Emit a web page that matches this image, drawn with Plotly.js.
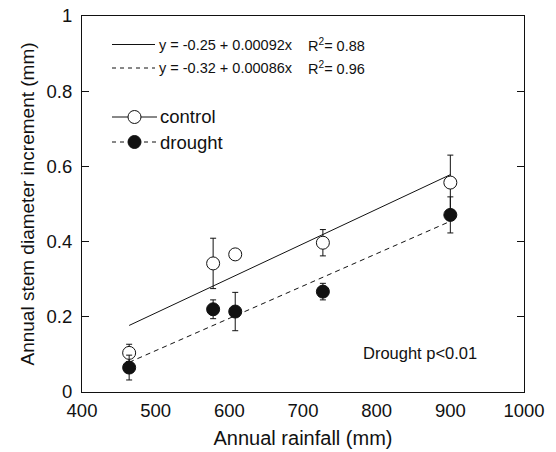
<!DOCTYPE html>
<html><head><meta charset="utf-8">
<script src="https://cdn.plot.ly/plotly-3.0.1.min.js"></script>
<style>html,body{margin:0;padding:0;background:#fff}</style>
</head><body><div id="chart" style="width:556px;height:452px"></div>
<script>
// ---- data ----
const rainfall = [464, 578, 608, 727, 900];
const controlMean = [0.104, 0.342, 0.366, 0.397, 0.557];
const controlErr = [0.023, 0.067, 0.008, 0.035, 0.073];
const droughtMean = [0.065, 0.220, 0.214, 0.267, 0.471];
const droughtErr = [0.033, 0.025, 0.051, 0.022, 0.048];
const fitX = [464, 900];
const controlFit = [0.177, 0.578];
const droughtFit = [0.079, 0.454];
const xTicks = [400, 500, 600, 700, 800, 900, 1000];
const yTicks = [0, 0.2, 0.4, 0.6, 0.8, 1];
const yTickLabels = ['0', '0.2', '0.4', '0.6', '0.8', '1'];
const eqLabels = ['y = -0.25 + 0.00092x', 'y = -0.32 + 0.00086x'];
const r2Labels = ['R<sup>2</sup>= 0.88', 'R<sup>2</sup>= 0.96'];
const seriesNames = ['control', 'drought'];
const noteText = 'Drought p&lt;0.01';

const FONT = 'Liberation Sans, Arial, sans-serif';
const INK = '#111';
const W = 556, H = 452, L = 82, R = 32, T = 16, B = 60;
const pw = W - L - R, ph = H - T - B;
const px = v => (v - L) / pw;
const py = v => (H - B - v) / ph;

const traces = [
  {x: fitX, y: controlFit, mode: 'lines', line: {color: INK, width: 1}, hoverinfo: 'skip', showlegend: false},
  {x: fitX, y: droughtFit, mode: 'lines', line: {color: INK, width: 1, dash: '5px,4px'}, hoverinfo: 'skip', showlegend: false},
  {x: rainfall, y: controlMean, name: seriesNames[0], mode: 'markers',
   marker: {symbol: 'circle', size: 13, color: '#fff', line: {color: INK, width: 1}},
   error_y: {type: 'data', array: controlErr, visible: true, color: INK, thickness: 1, width: 3}, showlegend: false},
  {x: rainfall, y: droughtMean, name: seriesNames[1], mode: 'markers',
   marker: {symbol: 'circle', size: 13, color: INK, line: {color: INK, width: 1}},
   error_y: {type: 'data', array: droughtErr, visible: true, color: INK, thickness: 1, width: 3}, showlegend: false}
];

// legend-like key drawn in paper coordinates
const shapes = [
  {type: 'line', xref: 'paper', yref: 'paper', x0: px(112), x1: px(155), y0: py(44.5), y1: py(44.5), line: {color: INK, width: 1}},
  {type: 'line', xref: 'paper', yref: 'paper', x0: px(112), x1: px(155), y0: py(68), y1: py(68), line: {color: INK, width: 1, dash: '4px,4px'}},
  {type: 'line', xref: 'paper', yref: 'paper', x0: px(112), x1: px(157), y0: py(117), y1: py(117), line: {color: INK, width: 1}},
  {type: 'line', xref: 'paper', yref: 'paper', x0: px(112), x1: px(157), y0: py(142), y1: py(142), line: {color: INK, width: 1, dash: '4px,4px'}},
  {type: 'circle', xref: 'paper', yref: 'paper', xsizemode: 'pixel', ysizemode: 'pixel',
   xanchor: px(134.5), yanchor: py(117), x0: -6.5, x1: 6.5, y0: -6.5, y1: 6.5, fillcolor: '#fff', line: {color: INK, width: 1}},
  {type: 'circle', xref: 'paper', yref: 'paper', xsizemode: 'pixel', ysizemode: 'pixel',
   xanchor: px(134.5), yanchor: py(142), x0: -6.5, x1: 6.5, y0: -6.5, y1: 6.5, fillcolor: INK, line: {color: INK, width: 1}}
];

const ann = (text, x, y, size, anchor) => ({text, xref: 'paper', yref: 'paper', x: px(x), y: py(y),
  xanchor: anchor || 'left', yanchor: 'middle', showarrow: false, font: {family: FONT, size, color: INK}});
const annotations = [
  ann(eqLabels[0], 157, 44.5, 14.5), ann(r2Labels[0], 306, 44.5, 14.5),
  ann(eqLabels[1], 157, 68, 14.5), ann(r2Labels[1], 306, 68, 14.5),
  ann(seriesNames[0], 158, 117, 18.5), ann(seriesNames[1], 158, 142, 18.5),
  ann(noteText, 361, 353, 16.5)
];

const layout = {
  width: W, height: H,
  margin: {l: L, r: R, t: T, b: B, pad: 0},
  paper_bgcolor: '#fff', plot_bgcolor: '#fff',
  showlegend: false,
  font: {family: FONT, color: INK},
  xaxis: {range: [400, 1000], tickvals: xTicks, ticktext: xTicks.map(String), ticks: '',
    showline: true, mirror: true, linecolor: INK, linewidth: 1, showgrid: false, zeroline: false,
    tickfont: {family: FONT, size: 18.5, color: INK}, ticklabelstandoff: 2, automargin: false,
    title: {text: 'Annual rainfall (mm)', font: {family: FONT, size: 20, color: INK}, standoff: 10}},
  yaxis: {range: [0, 1], tickvals: yTicks, ticktext: yTickLabels, ticks: 'inside', ticklen: 7, tickcolor: INK,
    showline: true, mirror: 'ticks', linecolor: INK, linewidth: 1, showgrid: false, zeroline: false,
    tickfont: {family: FONT, size: 18.5, color: INK}, ticklabelstandoff: 5, automargin: false,
    title: {text: 'Annual stem diameter increment (mm)', font: {family: FONT, size: 19, color: INK}, standoff: 6}},
  shapes, annotations
};

Plotly.newPlot('chart', traces, layout, {displayModeBar: false, staticPlot: true});
</script></body></html>
